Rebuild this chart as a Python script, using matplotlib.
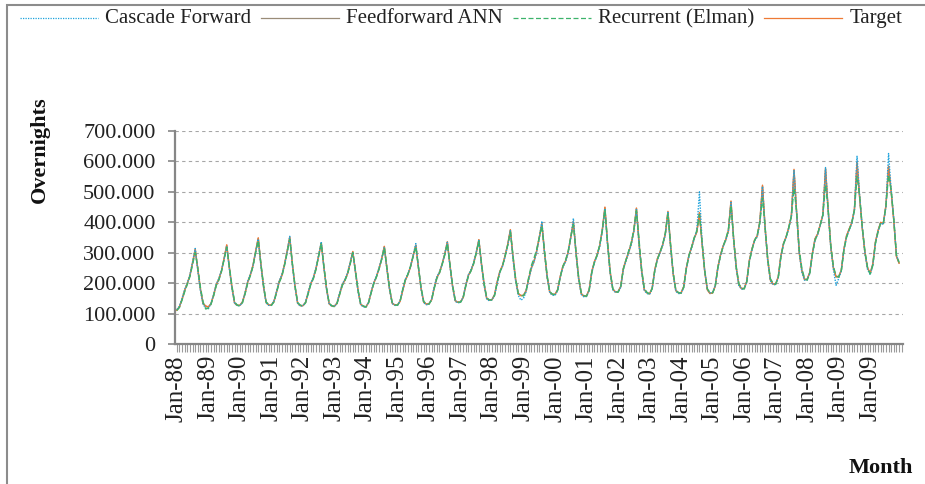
import matplotlib
matplotlib.use("Agg")
import matplotlib.pyplot as plt
from matplotlib.ticker import FuncFormatter, MultipleLocator, FixedLocator
from matplotlib.lines import Line2D
from matplotlib.patches import Rectangle

plt.rcParams['font.family'] = ['Liberation Serif', 'DejaVu Serif']

years = list(range(1988, 2011))
tick_labels = ["Jan-88", "Jan-89", "Jan-90", "Jan-91", "Jan-92", "Jan-93", "Jan-94",
               "Jan-95", "Jan-96", "Jan-97", "Jan-98", "Jan-99", "Jan-00", "Jan-01",
               "Jan-02", "Jan-03", "Jan-04", "Jan-05", "Jan-06", "Jan-07", "Jan-08",
               "Jan-09", "Jan-09"]

target = [
    [111, 122, 148, 177, 199, 226, 268, 312, 245, 180, 133, 125],
    [122, 132, 160, 195, 213, 240, 282, 326, 250, 185, 135, 127],
    [127, 138, 168, 205, 228, 258, 305, 349, 262, 190, 136, 128],
    [128, 140, 172, 205, 225, 262, 305, 351, 262, 188, 134, 126],
    [126, 136, 168, 198, 218, 248, 290, 333, 252, 182, 132, 125],
    [124, 134, 165, 195, 210, 232, 265, 304, 238, 175, 130, 124],
    [122, 136, 170, 200, 222, 248, 280, 321, 248, 180, 134, 128],
    [128, 140, 175, 210, 228, 255, 290, 325, 250, 182, 138, 131],
    [132, 145, 185, 218, 235, 262, 295, 336, 258, 190, 142, 137],
    [138, 152, 192, 225, 242, 265, 300, 343, 262, 195, 150, 144],
    [146, 162, 205, 238, 258, 290, 328, 376, 285, 212, 165, 159],
    [160, 175, 215, 250, 272, 305, 350, 396, 300, 220, 170, 163],
    [163, 178, 222, 255, 272, 302, 352, 402, 298, 215, 165, 157],
    [158, 178, 238, 270, 292, 322, 375, 450, 330, 235, 180, 171],
    [172, 188, 248, 275, 302, 328, 372, 447, 330, 238, 178, 168],
    [165, 183, 245, 280, 302, 326, 362, 436, 322, 230, 175, 168],
    [168, 188, 250, 292, 318, 348, 368, 432, 330, 238, 178, 166],
    [168, 190, 252, 292, 322, 342, 372, 470, 345, 250, 195, 182],
    [182, 205, 275, 312, 342, 355, 402, 522, 380, 275, 210, 197],
    [197, 220, 290, 330, 352, 382, 422, 574, 430, 300, 240, 212],
    [212, 235, 298, 345, 362, 392, 425, 577, 440, 320, 250, 221],
    [221, 242, 312, 355, 378, 398, 442, 597, 480, 380, 300, 250],
    [232, 262, 335, 372, 400, 395, 455, 585, 500, 405, 288, 266],
]

cascade = [
    [113, 124, 150, 180, 200, 228, 270, 314, 240, 175, 130, 118],
    [116, 133, 162, 196, 215, 242, 280, 322, 248, 182, 134, 126],
    [126, 137, 170, 207, 230, 256, 303, 345, 258, 188, 135, 127],
    [127, 142, 174, 207, 228, 260, 303, 354, 258, 186, 133, 125],
    [125, 137, 170, 200, 220, 250, 292, 336, 250, 180, 131, 124],
    [123, 135, 168, 197, 212, 234, 268, 302, 236, 172, 129, 122],
    [121, 137, 172, 202, 224, 250, 282, 318, 245, 178, 133, 127],
    [127, 141, 178, 212, 230, 257, 292, 330, 252, 180, 136, 129],
    [131, 146, 188, 220, 237, 260, 296, 334, 255, 188, 140, 135],
    [137, 153, 194, 227, 244, 267, 302, 340, 260, 193, 148, 142],
    [145, 160, 200, 235, 255, 288, 325, 372, 280, 208, 160, 144],
    [150, 172, 212, 248, 270, 302, 348, 404, 298, 218, 168, 160],
    [160, 176, 220, 252, 270, 300, 350, 413, 296, 212, 163, 155],
    [156, 176, 235, 268, 290, 320, 372, 445, 325, 232, 178, 170],
    [170, 186, 245, 273, 300, 325, 370, 442, 326, 235, 176, 166],
    [163, 181, 242, 278, 300, 324, 360, 432, 318, 228, 173, 166],
    [166, 186, 248, 290, 316, 345, 375, 500, 335, 240, 180, 168],
    [170, 192, 250, 290, 320, 340, 370, 465, 342, 248, 192, 180],
    [180, 203, 272, 310, 340, 352, 398, 518, 378, 272, 208, 195],
    [195, 218, 288, 328, 350, 380, 420, 570, 428, 298, 236, 210],
    [210, 232, 295, 342, 360, 390, 422, 580, 438, 315, 245, 193],
    [215, 240, 310, 352, 375, 396, 440, 617, 485, 382, 298, 245],
    [228, 258, 332, 370, 398, 392, 452, 626, 505, 410, 292, 268],
]

recurrent = [
    [110, 120, 145, 172, 196, 222, 262, 300, 250, 185, 138, 115],
    [118, 130, 158, 192, 210, 238, 278, 318, 255, 190, 138, 128],
    [125, 136, 165, 200, 225, 255, 300, 340, 265, 195, 138, 130],
    [127, 138, 170, 202, 222, 258, 300, 344, 265, 192, 136, 128],
    [125, 135, 165, 195, 215, 245, 290, 330, 255, 186, 134, 126],
    [123, 133, 162, 192, 208, 230, 262, 300, 242, 178, 132, 125],
    [121, 135, 168, 198, 220, 246, 278, 316, 250, 184, 136, 129],
    [127, 140, 180, 212, 230, 256, 288, 320, 254, 186, 140, 132],
    [131, 144, 182, 215, 233, 260, 292, 330, 262, 194, 145, 138],
    [137, 150, 190, 222, 240, 263, 298, 338, 266, 200, 152, 145],
    [145, 160, 203, 236, 256, 288, 325, 368, 290, 215, 166, 160],
    [158, 175, 220, 258, 282, 310, 350, 388, 305, 225, 172, 164],
    [162, 177, 220, 255, 275, 305, 352, 392, 302, 220, 168, 159],
    [157, 176, 235, 268, 292, 325, 372, 440, 335, 240, 182, 172],
    [170, 186, 245, 275, 305, 332, 375, 438, 340, 245, 182, 170],
    [164, 182, 242, 278, 302, 328, 365, 428, 328, 235, 178, 169],
    [167, 186, 248, 290, 318, 350, 372, 425, 335, 242, 182, 168],
    [168, 188, 250, 290, 320, 345, 375, 455, 350, 255, 198, 184],
    [181, 203, 270, 310, 340, 358, 400, 480, 385, 280, 215, 200],
    [196, 218, 285, 328, 352, 382, 420, 512, 435, 310, 248, 216],
    [210, 232, 295, 340, 362, 392, 425, 523, 445, 325, 255, 224],
    [220, 240, 308, 350, 375, 398, 440, 550, 485, 385, 305, 252],
    [230, 258, 330, 368, 398, 398, 452, 556, 505, 410, 292, 268],
]

feedforward = [
    [112, 123, 147, 176, 200, 225, 266, 310, 243, 178, 132, 124],
    [121, 133, 161, 194, 214, 241, 280, 324, 251, 184, 134, 127],
    [127, 139, 167, 204, 227, 259, 303, 347, 263, 189, 137, 128],
    [128, 141, 171, 206, 226, 261, 304, 350, 261, 189, 135, 126],
    [126, 137, 167, 199, 217, 249, 289, 331, 253, 181, 133, 125],
    [124, 135, 166, 194, 211, 231, 266, 303, 239, 176, 131, 124],
    [122, 137, 171, 201, 221, 249, 279, 320, 247, 181, 135, 128],
    [128, 141, 176, 209, 229, 254, 291, 324, 251, 183, 137, 131],
    [132, 146, 184, 219, 234, 263, 294, 335, 259, 189, 143, 137],
    [138, 153, 191, 226, 241, 266, 299, 342, 263, 196, 149, 144],
    [146, 163, 204, 239, 257, 291, 327, 374, 286, 211, 166, 159],
    [160, 176, 216, 251, 271, 306, 349, 395, 301, 221, 171, 163],
    [163, 179, 221, 256, 273, 301, 351, 400, 299, 216, 166, 157],
    [158, 179, 237, 271, 291, 323, 374, 448, 331, 236, 181, 171],
    [172, 189, 247, 276, 301, 329, 371, 445, 331, 239, 179, 168],
    [165, 184, 244, 281, 301, 327, 361, 434, 323, 231, 176, 168],
    [168, 189, 249, 291, 317, 347, 369, 430, 331, 239, 179, 166],
    [168, 191, 251, 293, 321, 343, 371, 468, 346, 251, 196, 182],
    [182, 206, 274, 313, 341, 356, 401, 519, 381, 276, 211, 197],
    [197, 221, 289, 331, 351, 383, 421, 571, 431, 301, 241, 212],
    [212, 236, 297, 346, 361, 393, 424, 574, 441, 321, 251, 221],
    [221, 243, 311, 356, 377, 399, 441, 594, 481, 381, 301, 250],
    [232, 263, 334, 373, 399, 396, 454, 582, 501, 406, 289, 266],
]

series_names = ["Cascade Forward", "Feedforward ANN", "Recurrent (Elman)", "Target"]


def flat(rows):
    return [v * 1000 for row in rows for v in row]


x = list(range(len(years) * 12))

fig = plt.figure(figsize=(9.25, 4.84), dpi=100)
W, H = 925, 484
ax = fig.add_axes([175 / W, (H - 344) / H, (903 - 175) / W, (344 - 131) / H])

c_blue = "#1FA3DC"
c_gray = "#9A8C78"
c_green = "#3DB36B"
c_orange = "#EE7A35"

styles = {
    "Cascade Forward": dict(color=c_blue, ls=(0, (1, 1))),
    "Feedforward ANN": dict(color=c_gray, ls='-'),
    "Recurrent (Elman)": dict(color=c_green, ls=(0, (4, 2))),
    "Target": dict(color=c_orange, ls='-'),
}

ax.plot(x, flat(feedforward), lw=1.0, zorder=3, **styles["Feedforward ANN"])
ax.plot(x, flat(target), lw=1.0, zorder=4, **styles["Target"])
ax.plot(x, flat(cascade), lw=1.0, zorder=5, **styles["Cascade Forward"])
ax.plot(x, flat(recurrent), lw=1.0, zorder=5, **styles["Recurrent (Elman)"])

ax.set_xlim(-0.7, len(x) + 0.5)
ax.set_ylim(0, 700000)
ax.yaxis.set_major_locator(MultipleLocator(100000))
ax.yaxis.set_major_formatter(FuncFormatter(lambda v, p: "0" if v == 0 else f"{v:,.0f}".replace(",", ".")))
ax.grid(axis='y', color='#A6A6A6', ls=(0, (3, 3)), lw=0.8)
ax.set_axisbelow(True)

ax.xaxis.set_major_locator(FixedLocator([i * 12 for i in range(len(tick_labels))]))
ax.set_xticklabels(tick_labels, rotation=90)
ax.xaxis.set_minor_locator(MultipleLocator(1))

for s in ['top', 'right']:
    ax.spines[s].set_visible(False)
for s in ['left', 'bottom']:
    ax.spines[s].set_color('#868686')
    ax.spines[s].set_linewidth(1.6)

ax.tick_params(axis='y', which='major', direction='out', length=5, width=1.2, color='#868686',
               labelsize=16, pad=9, labelcolor='#222222')
ax.tick_params(axis='x', which='major', direction='out', length=6, width=0.8, color='#9A9A9A',
               labelsize=18, pad=2, labelcolor='#222222')
ax.tick_params(axis='x', which='minor', direction='out', length=6, width=0.8, color='#9A9A9A')

fig.text(40 / W, (H - 150) / H, "Overnights", rotation=90, fontsize=16, fontweight='bold',
         ha='center', va='center', color='#111111')
fig.text(913 / W, (H - 468) / H, "Month", fontsize=16, fontweight='bold',
         ha='right', va='center', color='#111111')

# outer chart frame (only top & left visible in the crop)
fig.add_artist(Rectangle((7 / W, -0.1), 1.2, (H - 5) / H + 0.1, transform=fig.transFigure,
                         fill=False, edgecolor='#8C8C8C', lw=1.5))

# legend row, laid out entry by entry using measured text widths
renderer = fig.canvas.get_renderer()
line_y = (H - 18) / H
base_y = (H - 23) / H
cur = 20.0
sample_len, text_pad, col_gap = 78.0, 7.0, 10.0
for name in series_names:
    st = styles[name]
    fig.add_artist(Line2D([cur / W, (cur + sample_len) / W], [line_y, line_y],
                          transform=fig.transFigure, color=st['color'], ls=st['ls'], lw=0.9))
    t = fig.text((cur + sample_len + text_pad) / W, base_y, name, fontsize=15,
                 ha='left', va='baseline', color='#222222')
    wpx = t.get_window_extent(renderer=renderer).width
    cur = cur + sample_len + text_pad + wpx + col_gap

fig.savefig("out.png", dpi=100)
